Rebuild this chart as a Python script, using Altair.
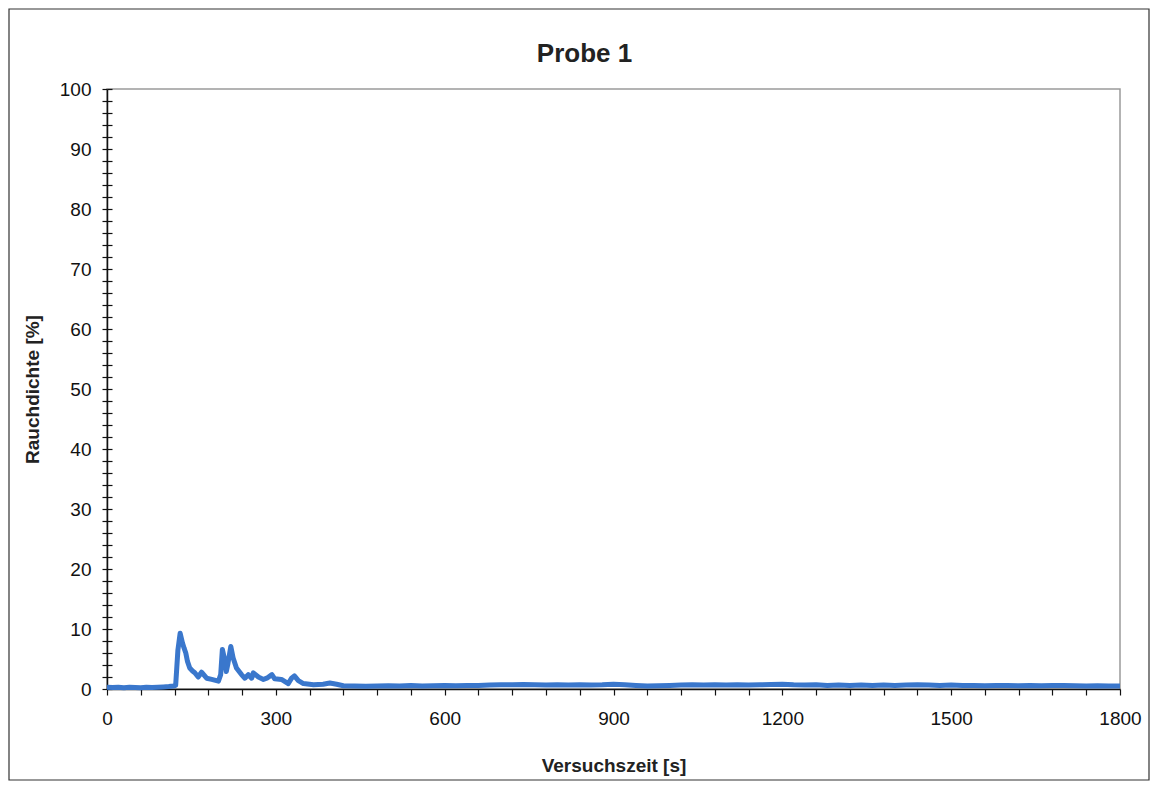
import altair as alt
import pandas as pd

# Time (s) and smoke density (%)
t_early = [0, 10, 20, 30, 40, 50, 60, 70, 80, 90, 100, 110, 118]
v_early = [0.3, 0.25, 0.3, 0.2, 0.3, 0.25, 0.2, 0.3, 0.25, 0.3, 0.35, 0.4, 0.5]

t_burst = [122, 126, 130, 134, 137, 140, 143, 147, 152, 156, 162, 168, 177, 186, 198,
           202, 205, 209, 212, 215, 220, 224, 230, 239, 245, 251, 257, 260, 269, 278,
           284, 293, 298, 310, 322, 328, 333, 340, 349, 367, 384, 396, 408, 420]
v_burst = [0.6, 6.5, 9.3, 7.7, 6.8, 6.0, 4.6, 3.5, 3.0, 2.7, 2.0, 2.8, 1.8, 1.6, 1.3,
           2.4, 6.6, 4.9, 2.9, 4.3, 7.1, 5.2, 3.5, 2.4, 1.8, 2.4, 1.8, 2.7, 2.0, 1.6,
           1.8, 2.4, 1.7, 1.6, 0.9, 1.8, 2.2, 1.4, 0.9, 0.7, 0.8, 1.0, 0.8, 0.55]

t_tail = [440, 460, 480, 500, 520, 540, 560, 580, 600, 620, 640, 660, 680, 700, 720,
          740, 760, 780, 800, 820, 840, 860, 880, 900, 920, 940, 960, 980, 1000, 1020,
          1040, 1060, 1080, 1100, 1120, 1140, 1160, 1180, 1200, 1220, 1240, 1260, 1280,
          1300, 1320, 1340, 1360, 1380, 1400, 1420, 1440, 1460, 1480, 1500, 1520, 1540,
          1560, 1580, 1600, 1620, 1640, 1660, 1680, 1700, 1720, 1740, 1760, 1780, 1800]
v_tail = [0.5, 0.45, 0.5, 0.55, 0.5, 0.6, 0.5, 0.55, 0.6, 0.55, 0.6, 0.6, 0.65, 0.7, 0.7,
          0.75, 0.7, 0.65, 0.7, 0.65, 0.7, 0.65, 0.7, 0.8, 0.7, 0.6, 0.5, 0.55, 0.6, 0.65,
          0.7, 0.65, 0.7, 0.65, 0.7, 0.65, 0.7, 0.75, 0.8, 0.7, 0.65, 0.7, 0.6, 0.65,
          0.6, 0.65, 0.6, 0.65, 0.6, 0.65, 0.7, 0.65, 0.6, 0.65, 0.6, 0.6, 0.55, 0.6,
          0.6, 0.55, 0.6, 0.55, 0.6, 0.6, 0.55, 0.5, 0.55, 0.5, 0.5]

chart_title = ["Probe 1"]

df = pd.DataFrame({
    "t": t_early + t_burst + t_tail,
    "v": v_early + v_burst + v_tail,
})

x_ticks = list(range(0, 1801, 60))
y_ticks = list(range(0, 101, 2))

FONT = "Liberation Sans"
W, H = 1013, 600

x_enc = alt.X("t:Q", scale=alt.Scale(domain=[0, 1800], nice=False),
              axis=alt.Axis(title="Versuchszeit [s]", values=x_ticks,
                            labelExpr="datum.value % 300 == 0 ? datum.label : ''",
                            format="d", grid=False, tickSize=6, tickColor="#111",
                            domainColor="#111", domainWidth=1.5, tickWidth=1.2,
                            labelPadding=14, titlePadding=28, labelFlush=False,
                            labelOverlap=False))
y_enc = alt.Y("v:Q", scale=alt.Scale(domain=[0, 100], nice=False),
              axis=alt.Axis(title="Rauchdichte [%]", values=y_ticks,
                            labelExpr="datum.value % 10 == 0 ? datum.label : ''",
                            grid=False, tickSize=5, tickColor="#111",
                            domainColor="#111", domainWidth=1.5, tickWidth=1.2,
                            labelPadding=11, titlePadding=17, labelOverlap=False))

line = alt.Chart(df).mark_line(color="#3a77cc", strokeWidth=5,
                               strokeJoin="round").encode(x=x_enc, y=y_enc)

# inward half of the crossing y ticks
inner = alt.Chart(df).mark_point(opacity=0).encode(
    y=alt.Y("v:Q", scale=alt.Scale(domain=[0, 100], nice=False),
            axis=alt.Axis(orient="right", offset=-W, values=y_ticks, labels=False,
                          domain=False, grid=False, tickSize=5, tickColor="#111",
                          tickWidth=1.2, title=None)),
)

frame = alt.Chart(alt.Data(values=[{}])).mark_rect(
    filled=False, stroke="#333", strokeWidth=1.2
).encode(x=alt.value(-98), x2=alt.value(W + 29), y=alt.value(-80), y2=alt.value(H + 91))

title = alt.Chart(pd.DataFrame({"label": chart_title})).mark_text(
    font=FONT, fontSize=26, fontWeight="bold", color="#222",
    align="center", baseline="alphabetic"
).encode(text="label:N", x=alt.value(W / 2 - 29), y=alt.value(-27))

chart = alt.layer(frame, line, inner, title).resolve_axis(y="independent").properties(
    width=W, height=H,
    autosize=alt.AutoSizeParams(type="none"),
    padding={"left": 99, "top": 81, "right": 30, "bottom": 93},
    background="white",
).configure_view(stroke="#9a9a9a", strokeWidth=1.5).configure_axis(
    labelFont=FONT, titleFont=FONT, labelFontSize=19, titleFontSize=19,
    labelColor="#111", titleColor="#222", titleFontWeight="bold"
)

chart.save("out.html", embed_options={"renderer": "svg", "actions": False})
